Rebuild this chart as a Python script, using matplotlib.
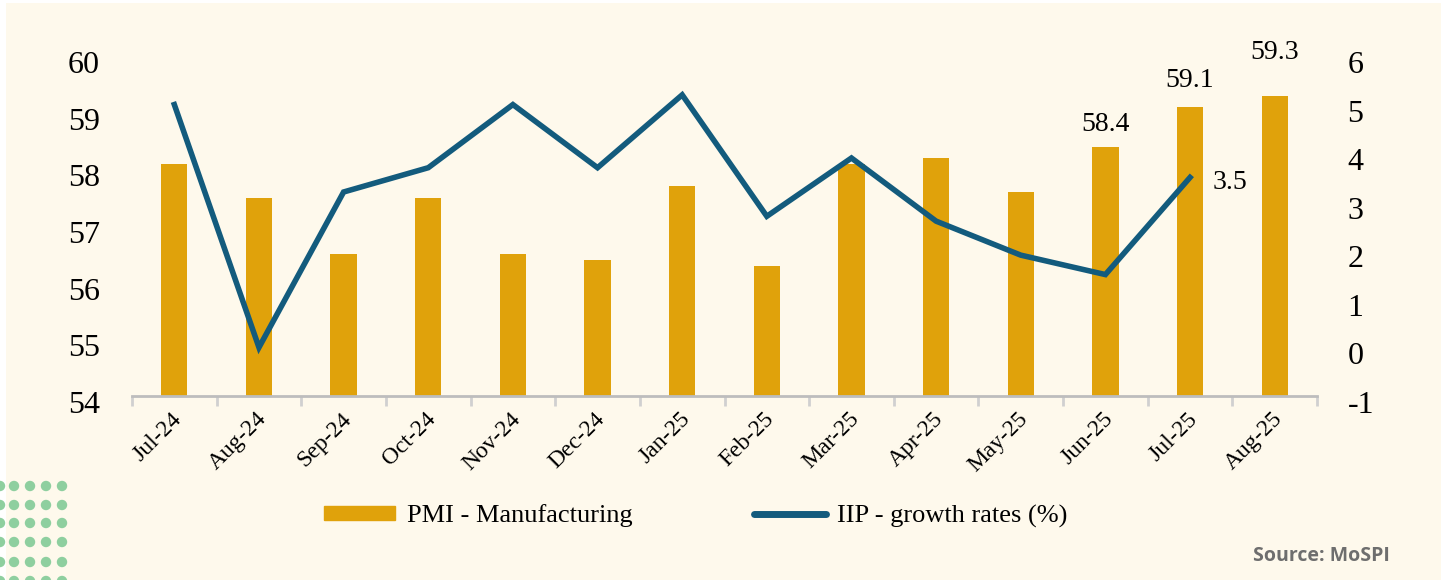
import matplotlib.pyplot as plt
from matplotlib.patches import Rectangle, Circle
from matplotlib.lines import Line2D
from matplotlib.transforms import ScaledTranslation
import numpy as np

plt.rcParams["axes.unicode_minus"] = False

months = ["Jul-24", "Aug-24", "Sep-24", "Oct-24", "Nov-24", "Dec-24", "Jan-25",
          "Feb-25", "Mar-25", "Apr-25", "May-25", "Jun-25", "Jul-25", "Aug-25"]
pmi = [58.1, 57.5, 56.5, 57.5, 56.5, 56.4, 57.7, 56.3, 58.1, 58.2, 57.6, 58.4, 59.1, 59.3]
iip = [5.0, 0.0, 3.2, 3.7, 5.0, 3.7, 5.2, 2.7, 3.9, 2.6, 1.9, 1.5, 3.5]

pmi_labelled = ["Jun-25", "Jul-25", "Aug-25"]
pmi_label_gap = [7, 10, 22]   # points above bar
iip_labelled = ["Jul-25"]

BAR = "#E0A20B"
LINE = "#135B7D"
CREAM = "#FEF9EC"
SERIF = "Liberation Serif"

fig = plt.figure(figsize=(14.5, 5.8), dpi=100, facecolor="white")

# background panel + decorative dots (pixel coordinates)
bg = fig.add_axes([0, 0, 1, 1], zorder=0)
bg.set_xlim(0, 1450)
bg.set_ylim(580, 0)
bg.axis("off")
bg.add_patch(Rectangle((6, 3), 1435, 580, color=CREAM, lw=0))
for cy in [486, 505, 523, 542, 562, 581]:
    for cx in [0, 14, 30, 46, 62]:
        bg.add_patch(Circle((cx, cy), 5.2, color="#8ECF9F", lw=0))
bg.text(1390, 556, "Source: MoSPI", ha="right", va="center",
        fontsize=14, fontweight="bold", color="#6E6E6E", family="Open Sans")

ax = fig.add_axes([132 / 1450, 1 - 396 / 580, (1317 - 132) / 1450, (396 - 56) / 580], zorder=1)
ax.patch.set_alpha(0)
x = np.arange(len(months))
ax.bar(x, pmi, width=0.31, color=BAR, zorder=2)
ax.set_ylim(54, 60)
ax.set_xlim(-0.5, len(months) - 0.5)

k = 0
for i, m in enumerate(months):
    if m in pmi_labelled:
        ax.annotate(f"{pmi[i]:.1f}", (x[i], pmi[i]), xytext=(0, pmi_label_gap[k]),
                    textcoords="offset points", ha="center", va="bottom",
                    fontsize=20, family=SERIF)
        k += 1

for s in ["top", "left", "right"]:
    ax.spines[s].set_visible(False)
ax.spines["bottom"].set_color("#BDBDBD")
ax.spines["bottom"].set_linewidth(2)

ax.set_xticks(x)
ax.set_xticklabels(months, rotation=45, ha="right", rotation_mode="anchor",
                   fontsize=17, family=SERIF)
ax.set_xticks(np.arange(-0.5, len(months)), minor=True)
ax.tick_params(axis="x", which="major", length=0, pad=9)
ax.tick_params(axis="x", which="minor", length=7, width=2, color="#D0D0D0")
ax.set_yticks(range(54, 61))
ax.tick_params(axis="y", length=0, pad=23, labelsize=23)

shift = ScaledTranslation(0, -6 / 100, fig.dpi_scale_trans)
for t in ax.get_xticklabels():
    t.set_transform(t.get_transform() + ScaledTranslation(-3 / 100, 0, fig.dpi_scale_trans))
for t in ax.get_yticklabels():
    t.set_family(SERIF)
    t.set_transform(t.get_transform() + shift)

ax2 = ax.twinx()
ax2.plot(x[:len(iip)], iip, color=LINE, lw=4, solid_joinstyle="miter", zorder=3)
ax2.set_ylim(-1, 6)
ax2.set_yticks(range(-1, 7))
ax2.tick_params(axis="y", length=0, pad=22, labelsize=23)
for t in ax2.get_yticklabels():
    t.set_family(SERIF)
    t.set_transform(t.get_transform() + shift)
for s in ["top", "left", "right", "bottom"]:
    ax2.spines[s].set_visible(False)
for i, m in enumerate(months[:len(iip)]):
    if m in iip_labelled:
        ax2.annotate(f"{iip[i]:.1f}", (x[i], iip[i]), xytext=(16, -4),
                     textcoords="offset points", ha="left", va="center",
                     fontsize=20, family=SERIF)

handles = [Rectangle((0, 0), 1, 1, color=BAR),
           Line2D([0], [0], color=LINE, lw=5, solid_capstyle="round")]
fig.legend(handles, ["PMI - Manufacturing", "IIP - growth rates (%)"],
           loc="center", bbox_to_anchor=(696 / 1450, 1 - 516 / 580), ncol=2,
           frameon=False, prop={"family": SERIF, "size": 19},
           handlelength=2.7, handleheight=0.45, handletextpad=0.45, columnspacing=4.6)

fig.savefig("out.png", dpi=100, facecolor="white")
